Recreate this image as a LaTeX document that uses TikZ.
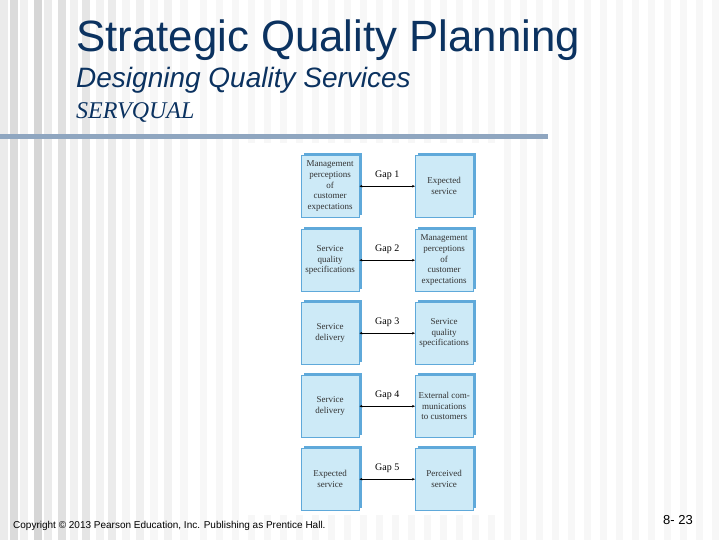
\documentclass[tikz,border=0pt]{standalone}
\usepackage{fontspec}
\setmainfont{Liberation Sans}
\newfontfamily\serifx{Liberation Serif}
\usetikzlibrary{arrows.meta}
\definecolor{titleblue}{HTML}{0B3260}
\definecolor{barblue}{HTML}{8FA6C0}
\definecolor{boxfill}{HTML}{CDEAF7}
\definecolor{boxshadow}{HTML}{5FA9DA}
\tikzset{
  gbox/.style={draw=boxshadow, line width=0.4pt, fill=boxfill, minimum width=58pt, minimum height=62pt, inner sep=1pt, align=center},
  gapline/.style={{Stealth[length=3pt,width=2.5pt]}-{Stealth[length=3pt,width=2.5pt]}, line width=0.5pt},
  gaplbl/.style={font=\serifx\fontsize{10}{11}\selectfont, above=3pt},
  bt/.style={font=\serifx\fontsize{9}{10.6}\selectfont, align=center, text=black!80}
}
\newcommand{\gboxdraw}[3]{%
  \fill[boxshadow] (#2+3,#3-2) rectangle (#2+61,#3+60);
  \node[gbox, anchor=north west] (#1) at (#2,#3) {};}
\begin{document}
\begin{tikzpicture}[x=1pt,y=-1pt]
\useasboundingbox (0,0) rectangle (720,540);
\fill[white] (0,0) rectangle (720,540);
\foreach \x/\c in {0/8,10/14,20/6,34/16,44/8,58/12,70/6,82/10,96/5,108/8,122/4,136/6,150/3,164/5,180/3}
  \fill[black!\c] (\x,0) rectangle (\x+8,540);
\foreach \x in {200,216,...,720} \fill[black!3] (\x,0) rectangle (\x+7,540);
\fill[barblue] (0,134.5) rectangle (548,139.5);
\node[anchor=base west, text=titleblue, font=\fontsize{43.8}{46}\selectfont, inner sep=0] (t) at (76,52) {Strategic Quality Planning};
\node[anchor=base west, text=titleblue, font=\itshape\fontsize{28}{30}\selectfont, inner sep=0] (st) at (76,88) {Designing Quality Services};
\node[anchor=base west, text=titleblue, font=\serifx\itshape\fontsize{24}{26}\selectfont, inner sep=0] (sq) at (76,119) {SERVQUAL};
\fill[white] (240,143) rectangle (504,515);
\gboxdraw{l1}{301}{155}
\gboxdraw{r1}{415}{155}
\gboxdraw{l2}{301}{229}
\gboxdraw{r2}{415}{229}
\gboxdraw{l3}{301}{302}
\gboxdraw{r3}{415}{302}
\gboxdraw{l4}{301}{375}
\gboxdraw{r4}{415}{375}
\gboxdraw{l5}{301}{448}
\gboxdraw{r5}{415}{448}
\node[bt] at (l1) {Management\\perceptions\\of\\customer\\expectations};
\node[bt] at (r1) {Expected\\service};
\node[bt] at (l2) {Service\\quality\\specifications};
\node[bt] at (r2) {Management\\perceptions\\of\\customer\\expectations};
\node[bt] at (l3) {Service\\delivery};
\node[bt] at (r3) {Service\\quality\\specifications};
\node[bt] at (l4) {Service\\delivery};
\node[bt] at (r4) {External com-\\munications\\to customers};
\node[bt] at (l5) {Expected\\service};
\node[bt] at (r5) {Perceived\\service};
\foreach \i in {1,...,5} {
  \draw[gapline] (l\i.east) -- node[gaplbl] {Gap \i} (r\i.west);
}
\node[anchor=base west, font=\fontsize{10}{12}\selectfont, inner sep=0] (cp) at (13,528) {Copyright © 2013 Pearson Education, Inc. Publishing as Prentice Hall.};
\node[anchor=base west, font=\fontsize{13}{15}\selectfont, inner sep=0] (pg) at (663,524) {8- 23};
\end{tikzpicture}
\end{document}
